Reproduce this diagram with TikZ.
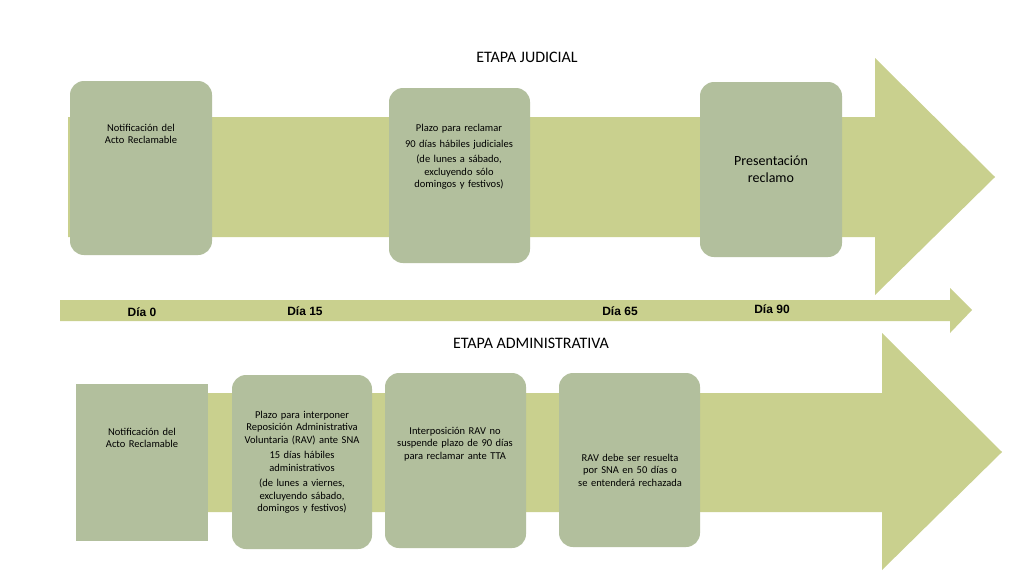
\documentclass[tikz,border=0pt]{standalone}
\usepackage{fontspec}
\setmainfont{Carlito}
\newfontfamily\arialf{Liberation Sans}
\begin{document}
\begin{tikzpicture}[x=1pt,y=-1pt,
  arr/.style={fill=arrowc,draw=none},
  bx/.style={fill=boxc,draw=none,rounded corners=14pt},
  txt/.style={align=center,font=\fontsize{10.5}{12.5}\selectfont,text width=#1,inner sep=0pt},
  txt/.default=120pt,
  dia/.style={font=\arialf\bfseries\fontsize{12}{14}\selectfont,inner sep=0pt},
  ttl/.style={font=\fontsize{16}{18}\selectfont,inner sep=0pt}]
\definecolor{arrowc}{HTML}{C9D08E}
\definecolor{boxc}{HTML}{B2BF9D}
\useasboundingbox[fill=white] (0,0) rectangle (1024,576);
\node[ttl] (t1) at (527,57) {ETAPA JUDICIAL};
\fill[arr] (68,117) -- (875,117) -- (875,58) -- (995,177) -- (875,295) -- (875,237) -- (68,237) -- cycle;
\fill[bx] (70,81) rectangle (212,255);
\node[txt] (a1) at (141,134) {Notificación del Acto Reclamable};
\fill[bx] (389,88) rectangle (530,263);
\node[txt] (a2) at (459,157) {Plazo para reclamar\\[3pt]90 días hábiles judiciales\\[3pt](de lunes a sábado, excluyendo sólo domingos y festivos)};
\fill[bx] (700,82) rectangle (842,257);
\node[txt,font=\fontsize{14}{17}\selectfont] (a3) at (771,169) {Presentación\\reclamo};
\fill[arr] (60,300) -- (950,300) -- (950,288) -- (972,310) -- (950,333) -- (950,321) -- (60,321) -- cycle;
\node[dia] (d0) at (142,312) {Día 0};
\node[dia] (d15) at (305,311) {Día 15};
\node[dia] (d65) at (620,311) {Día 65};
\node[dia] (d90) at (772,309) {Día 90};
\node[ttl] (t2) at (531,343) {ETAPA ADMINISTRATIVA};
\fill[arr] (80,393) -- (882,393) -- (882,333) -- (1002,452) -- (882,570) -- (882,512) -- (80,512) -- cycle;
\fill[boxc] (76,384) rectangle (208,541);
\node[txt] (b1) at (142,438) {Notificación del Acto Reclamable};
\fill[bx] (232,375) rectangle (372,549);
\node[txt=115pt] (b2) at (302,462) {Plazo para interponer Reposición Administrativa Voluntaria (RAV) ante SNA\\[3pt]15 días hábiles administrativos\\[3pt](de lunes a viernes, excluyendo sábado, domingos y festivos)};
\fill[bx] (385,373) rectangle (526,548);
\node[txt=118pt] (b3) at (455,444) {Interposición RAV no suspende plazo de 90 días para reclamar ante TTA};
\fill[bx] (559,373) rectangle (700,547);
\node[txt=118pt] (b4) at (630,470) {RAV debe ser resuelta por SNA en 50 días o se entenderá rechazada};
\end{tikzpicture}
\end{document}
